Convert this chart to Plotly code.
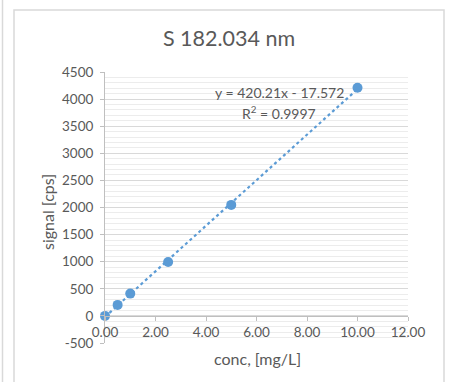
import plotly.graph_objects as go

conc = [0, 0.5, 1, 2.5, 5, 10]
signal = [0, 203, 411, 996, 2048, 4210]
slope = 420.21
intercept = -17.572
r2 = 0.9997
title_text = "S 182.034 nm"
x_title = "conc, [mg/L]"
y_title = "signal [cps]"
y_tick_vals = [-500, 0, 500, 1000, 1500, 2000, 2500, 3000, 3500, 4000, 4500]
y_tick_labels = ["-500", "0", "500", "1000", "1500", "2000", "2500", "3000", "3500", "4000", "4500"]
x_tick_vals = [0, 2, 4, 6, 8, 10, 12]
x_tick_labels = ["0.00", "2.00", "4.00", "6.00", "8.00", "10.00", "12.00"]

W, H = 451, 382
L, R, T, B = 105, 43, 72, 39
pw, ph = W - L - R, H - T - B

def px(x):
    return (x - L) / pw

def py(y):
    return (H - B - y) / ph

blue = "#5B9BD5"
txt = "#595959"
font = "Lato"

line_x = [conc[0], conc[-1]]
line_y = [slope * v + intercept for v in line_x]

fig = go.Figure()
fig.add_trace(go.Scatter(x=line_x, y=line_y, mode="lines",
                         line=dict(color=blue, width=2.2, dash="dot"),
                         hoverinfo="skip", showlegend=False, cliponaxis=False))
fig.add_trace(go.Scatter(x=conc, y=signal, mode="markers",
                         marker=dict(color=blue, size=10),
                         showlegend=False, cliponaxis=False))

fig.update_layout(
    width=W, height=H,
    margin=dict(l=L, r=R, t=T, b=B, autoexpand=False),
    paper_bgcolor="white", plot_bgcolor="white",
    font=dict(family=font, color=txt, size=13.5),
    title=dict(text=title_text, xref="container", yref="container",
               x=229 / W, y=1 - 38 / H, xanchor="center", yanchor="middle",
               font=dict(size=21.5, color=txt, family=font)),
    xaxis=dict(range=[0, 12], tickmode="array", tickvals=x_tick_vals, ticktext=x_tick_labels,
               showgrid=False,
               zeroline=False, showline=True, linecolor="#BFBFBF", linewidth=1,
               ticks="outside", ticklen=4, tickcolor="#BFBFBF",
               anchor="free", position=0.1, automargin=False,
               tickfont=dict(size=13.5, color=txt, family=font)),
    yaxis=dict(range=[-500, 4500], tickmode="array", tickvals=y_tick_vals, ticktext=y_tick_labels,
               showgrid=True,
               gridcolor="#D9D9D9", gridwidth=1, zeroline=False,
               showline=True, linecolor="#BFBFBF", linewidth=1,
               ticks="outside", ticklen=4, tickcolor="#BFBFBF", automargin=False,
               ticklabelstandoff=4,
               minor=dict(dtick=100, tickmode="linear", tick0=0, showgrid=True,
                          gridcolor="#ECECEC", gridwidth=1),
               tickfont=dict(size=13.5, color=txt, family=font)),
)

fig.add_annotation(text=x_title, xref="paper", yref="paper",
                   x=px(257), y=py(358), showarrow=False,
                   xanchor="center", yanchor="middle",
                   font=dict(size=16, color=txt, family=font))
fig.add_annotation(text=y_title, xref="paper", yref="paper",
                   x=px(47), y=py(212), showarrow=False, textangle=-90,
                   xanchor="center", yanchor="middle",
                   font=dict(size=16, color=txt, family=font))
fig.add_annotation(text=f"y = {slope}x - {abs(intercept)}", xref="paper", yref="paper",
                   x=px(279), y=py(93), showarrow=False,
                   xanchor="center", yanchor="middle",
                   font=dict(size=14, color=txt, family=font))
fig.add_annotation(text=f"R<sup>2</sup> = {r2}", xref="paper", yref="paper",
                   x=px(279), y=py(113), showarrow=False,
                   xanchor="center", yanchor="middle",
                   font=dict(size=14, color=txt, family=font))

# chart border and neighbouring chart edge
fig.add_shape(type="rect", xref="paper", yref="paper",
              x0=px(14), x1=px(444), y0=py(H + 20), y1=py(10),
              line=dict(color="#D9D9D9", width=1.5), layer="below")
fig.add_shape(type="line", xref="paper", yref="paper",
              x0=px(2.5), x1=px(2.5), y0=py(H + 20), y1=py(-20),
              line=dict(color="#D9D9D9", width=1.5), layer="below")

fig.write_html("out.html", config={"displayModeBar": False},
               post_script="document.body.style.margin='0';document.body.style.overflow='hidden';")
